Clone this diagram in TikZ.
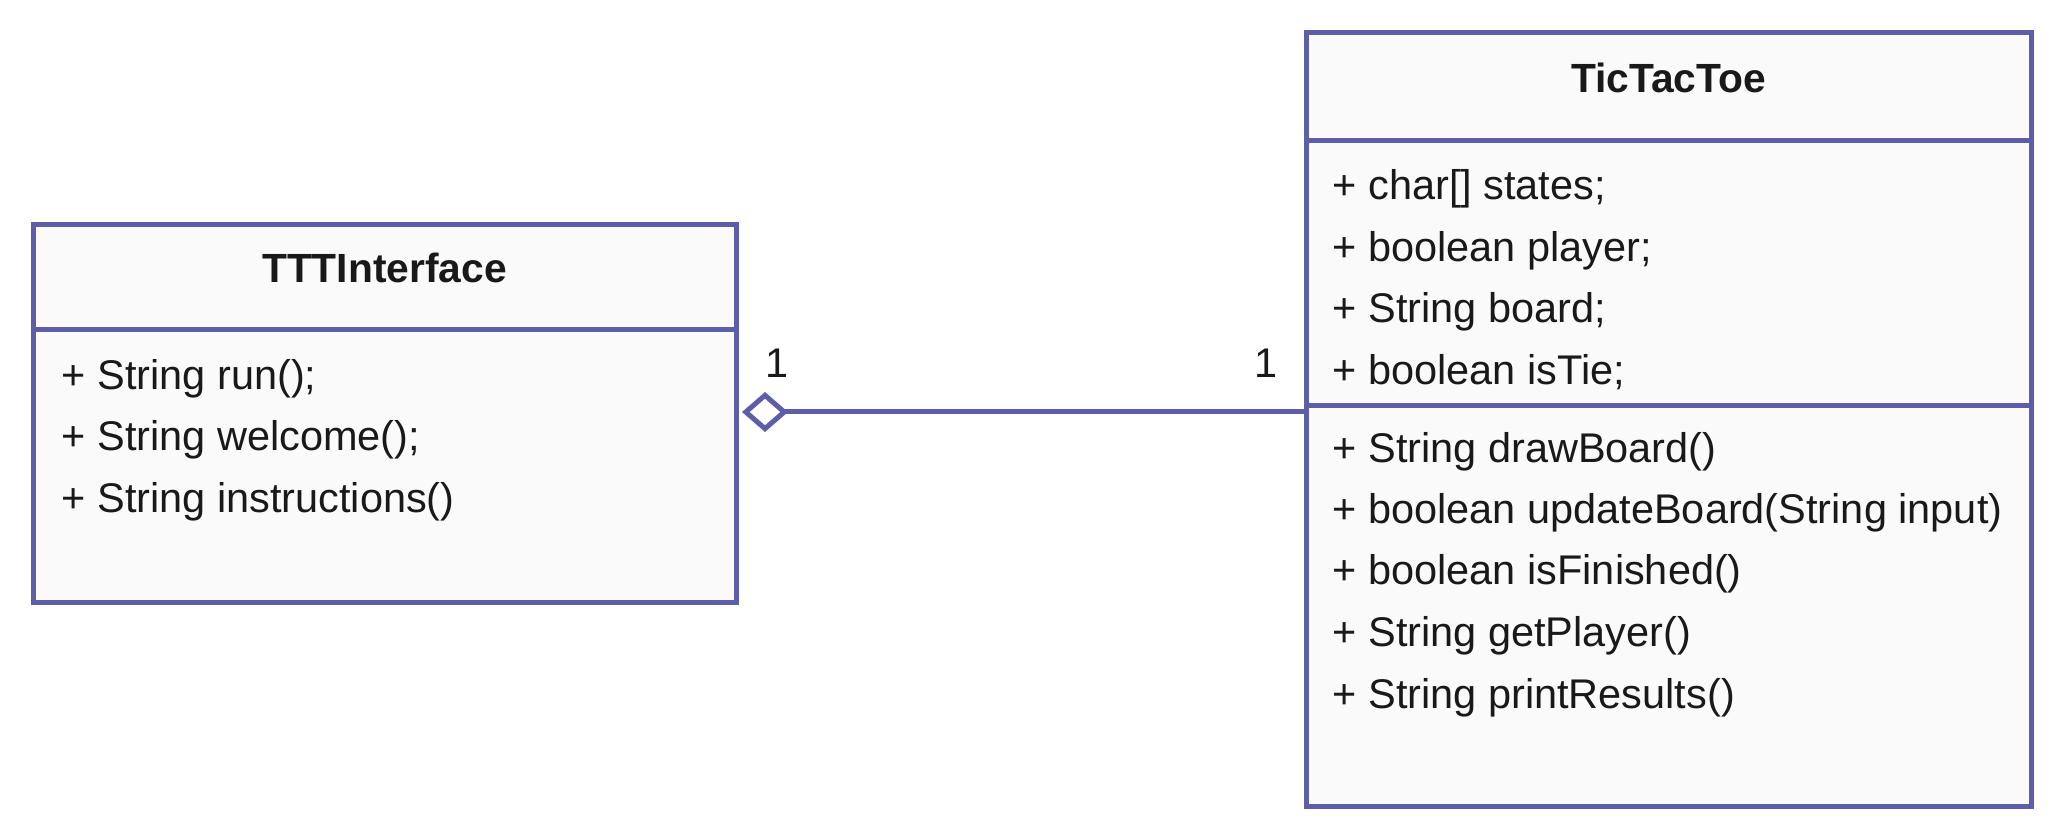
\documentclass[tikz,border=0pt]{standalone}
\usepackage{fontspec}
\setmainfont{Liberation Sans}
\usetikzlibrary{positioning,arrows.meta}
\definecolor{umlblue}{RGB}{94,94,168}
\definecolor{umlfill}{RGB}{250,250,250}
\tikzstyle{classbox}=[rectangle,
                      draw=umlblue,
                      fill=umlfill,
                      line width=0.05cm,
                      inner sep=0pt,
                      outer sep=0pt]
\tikzstyle{classhead}=[classbox,
                       font=\fontsize{11.6pt}{14pt}\selectfont\bfseries,
                       text=black!90,
                       text height=0.58cm,
                       text depth=0.47cm]
\tikzstyle{member}=[anchor=base west,
                    inner sep=0pt,
                    text=black!90,
                    font=\fontsize{11.8pt}{14pt}\selectfont]
\tikzstyle{mult}=[member,anchor=base]
\tikzstyle{line}=[draw=umlblue, line width=0.05cm]

\begin{document}
\begin{tikzpicture}
      \useasboundingbox (0,0) rectangle (20.48,-8.26);

      % left class
      \node [classhead, minimum width=7.03cm, minimum height=1.05cm,
             anchor=north west] (ifhead) at (0.33,-2.25) {TTTInterface};
      \node [classbox, minimum width=7.03cm, minimum height=2.73cm,
             below=0cm of ifhead] (ifbody) {};

      \foreach \op [count=\n] in {+ String run();, + String welcome();, + String instructions()}
        \node [member] (ifop\n) at (0.61,-3.28-0.615*\n) {\op};

      % right class
      \node [classhead, minimum width=7.25cm, minimum height=1.08cm,
             anchor=north west] (ttthead) at (13.06,-0.33) {TicTacToe};
      \node [classbox, minimum width=7.25cm, minimum height=2.65cm,
             below=0cm of ttthead] (tttattr) {};
      \node [classbox, minimum width=7.25cm, minimum height=4.01cm,
             below=0cm of tttattr] (tttops) {};

      \foreach \at [count=\n] in {+ char[] states;, + boolean player;, + String board;, + boolean isTie;}
        \node [member] (tttat\n) at (13.32,-1.385-0.615*\n) {\at};

      \foreach \op [count=\n] in {+ String drawBoard(), + boolean updateBoard(String input), + boolean isFinished(), + String getPlayer(), + String printResults()}
        \node [member] (tttop\n) at (13.32,-4.005-0.615*\n) {\op};

      % aggregation
      \coordinate (agg) at (7.42,-4.12);
      \draw [line, {Diamond[open,length=0.46cm,width=0.40cm]}-] (agg) -- (agg -| tttops.west);

      \node [mult] (multif) at (7.77,-3.77) {1};
      \node [mult] (multttt) at (12.66,-3.77) {1};
\end{tikzpicture}
\end{document}
